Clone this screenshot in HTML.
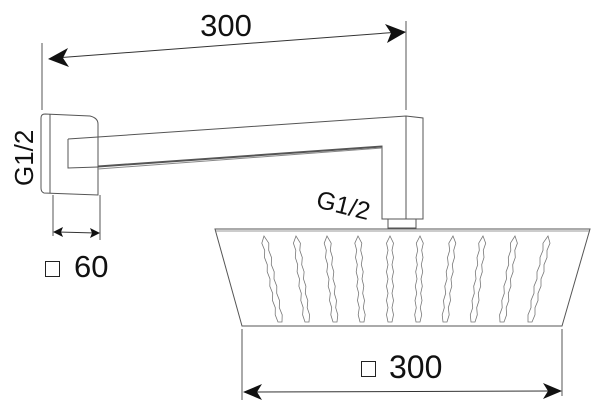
<!DOCTYPE html>
<html><head><meta charset="utf-8"><style>
html,body{margin:0;padding:0;background:#fff;width:600px;height:409px;overflow:hidden}
svg text{font-family:"Liberation Sans","DejaVu Sans",sans-serif;fill:#111}
</style></head><body>
<svg id="s" width="600" height="409" viewBox="0 0 600 409" xmlns="http://www.w3.org/2000/svg">
<g fill="none" stroke="#555" stroke-width="1">
<line x1="42" y1="43" x2="42" y2="110"/>
<line x1="406" y1="21" x2="406" y2="110"/>
<line x1="55" y1="58" x2="400" y2="32" stroke="#333"/>
<path d="M45,114 L90,116 Q98,118 98,124 L98,195 L44,193 Q41,192 41,188 L41,118 Q41,114 45,114 Z"/>
<line x1="50" y1="114" x2="50" y2="193"/>
<line x1="53" y1="195" x2="53" y2="236"/>
<line x1="100" y1="195" x2="100" y2="240"/>
<line x1="58" y1="232" x2="96" y2="233" stroke="#333"/>
<path d="M98,137 L406,116 L423,118 L423,219 L382,219 L382,147"/>
<path d="M68,139 L98,137"/>
<path d="M68,139 L68,168 L98,167"/>
<path d="M98,167 L382,147 L382,146 L98,166"/>
<path d="M98,169 L382,148" stroke="#888"/>
<line x1="406" y1="116" x2="406" y2="219"/>
<rect x="388" y="219" width="28" height="9"/>
<path d="M215,229 L590,229 L562,326 L242,326 Z"/>
<line x1="216" y1="231" x2="589" y2="231" stroke="#999"/>
<line x1="242" y1="329" x2="242" y2="400"/>
<line x1="562" y1="329" x2="562" y2="396"/>
<line x1="255" y1="392" x2="550" y2="391" stroke="#333"/>
<rect x="361.5" y="361.5" width="14" height="15" stroke="#222"/>
<rect x="45.5" y="261.5" width="14" height="15" stroke="#222"/>
<g id="noz" stroke="#777" stroke-width="0.8"></g>
</g>
<g fill="#111">
<path d="M48,59 L68,48 L63,58 L69,67 Z"/>
<path d="M406,32 L385,24 L391,33 L387,43 Z"/>
<path d="M53,232 L63,227 L61,232 L63,237 Z"/>
<path d="M100,233 L90,228 L92,233 L90,238 Z"/>
<path d="M243,392 L262,384 L257,392 L262,400 Z"/>
<path d="M562,391 L543,383 L548,391 L543,399 Z"/>
</g>
<text x="226" y="36" font-size="31" text-anchor="middle">300</text>
<text x="74" y="277" font-size="31">60</text>
<text x="389" y="378" font-size="32">300</text>
<text transform="translate(33,186) rotate(-90)" font-size="26">G1/2</text>
<text transform="translate(315,207) rotate(14)" font-size="25">G1/2</text>
</svg>
<script>
var g=document.getElementById('noz');
var tops=[264,296,327,358,390,420,453,483,515,548],bots=[280,307,335,362,390,418,445,473,502,530];
var d='';
for(var i=0;i<10;i++){
 var x0=tops[i],x1=bots[i],y0=236,y1=322,n=12;
 var L=[],R=[];
 for(var k=0;k<=n;k++){
  var t=k/n,x=x0+(x1-x0)*t,y=y0+(y1-y0)*t;
  var w=(k==0)?0:(k%2?3.5:2);
  L.push((x-w).toFixed(1)+','+y.toFixed(1));
  R.push((x+w).toFixed(1)+','+y.toFixed(1));
 }
 d+='M'+L.join(' L')+' L'+R.reverse().join(' L')+'Z ';
}
var p=document.createElementNS('http://www.w3.org/2000/svg','path');
p.setAttribute('d',d);g.appendChild(p);
</script>
</body></html>
